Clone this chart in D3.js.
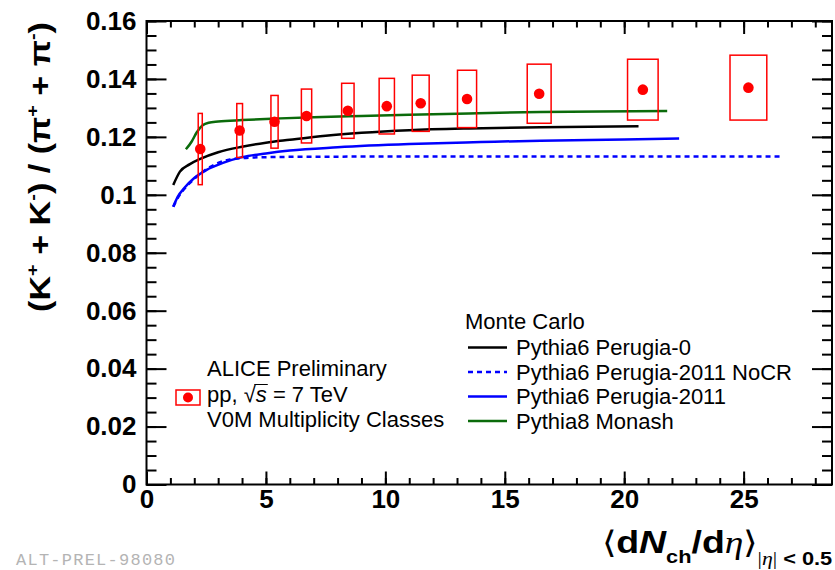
<!DOCTYPE html>
<html>
<head>
<meta charset="utf-8">
<script src="https://cdn.jsdelivr.net/npm/d3@7/dist/d3.min.js"></script>
<style>
  html, body { margin: 0; padding: 0; background: #fff; }
  svg { display: block; }
  text { font-family: "Liberation Sans", Arial, Helvetica, sans-serif; }
  text.figid { font-family: "Liberation Mono", "DejaVu Sans Mono", monospace; }
</style>
</head>
<body>
<svg id="chart" width="835" height="570"></svg>
<script>
// ALICE (K+ + K-)/(pi+ + pi-) vs charged-particle multiplicity, pp at 7 TeV
const multX   = [2.25, 3.9, 5.36, 6.7, 8.43, 10.06, 11.48, 13.42, 16.44, 20.78, 25.2];
const kPiRatio = [0.1158, 0.1222, 0.1252, 0.1272, 0.1290, 0.1306, 0.1316, 0.1331, 0.1349, 0.1363, 0.1370];
const sysX    = [0.085, 0.12, 0.15, 0.215, 0.26, 0.32, 0.355, 0.40, 0.50, 0.64, 0.77];
const sysY    = [0.0123, 0.0093, 0.0091, 0.0093, 0.0095, 0.0096, 0.0097, 0.0099, 0.0102, 0.0105, 0.0112];

// Monte Carlo predictions
const perugia0X = [1.12, 1.4, 1.8, 2.25, 3.0, 4.0, 5.0, 6.0, 7.5, 9.0, 11.0, 13.5, 16.5, 20.6];
const perugia0Y = [0.1034, 0.1080, 0.1105, 0.1124, 0.1147, 0.1166, 0.1180, 0.1190, 0.1204, 0.1214, 0.1223, 0.1229, 0.1233, 0.1237];

const perugia2011NoCRX = [1.12, 1.3, 1.6, 2.0, 2.5, 3.0, 3.5, 4.5, 6.0, 10.0, 15.0, 20.0, 26.6];
const perugia2011NoCRY = [0.0959, 0.0988, 0.1022, 0.1055, 0.1088, 0.1110, 0.1122, 0.1129, 0.1131, 0.1132, 0.1132, 0.1132, 0.1132];

const perugia2011X = [1.12, 1.3, 1.6, 2.0, 2.5, 3.2, 4.0, 5.0, 6.0, 8.0, 11.0, 14.0, 16.5, 20.0, 22.3];
const perugia2011Y = [0.0959, 0.0992, 0.1025, 0.1058, 0.1085, 0.1110, 0.1130, 0.1143, 0.1153, 0.1164, 0.1175, 0.1182, 0.1187, 0.1191, 0.1194];

const monashX = [1.65, 1.9, 2.1, 2.35, 2.6, 3.0, 4.0, 5.3, 7.0, 9.0, 11.0, 13.5, 16.5, 19.0, 21.8];
const monashY = [0.1157, 0.1185, 0.1215, 0.1240, 0.1249, 0.1253, 0.1258, 0.1263, 0.1268, 0.1272, 0.1276, 0.1281, 0.1286, 0.1288, 0.1289];

const xTicks = [0, 5, 10, 15, 20, 25];
const yTicks = [0, 0.02, 0.04, 0.06, 0.08, 0.1, 0.12, 0.14, 0.16];

const mcNames  = ["Pythia6 Perugia-0", "Pythia6 Perugia-2011 NoCR", "Pythia6 Perugia-2011", "Pythia8 Monash"];
const mcColors = ["#000000", "#0000ff", "#0000ff", "#0b6b0b"];
const mcDash   = [null, "5,4", null, null];
const mcX = [perugia0X, perugia2011NoCRX, perugia2011X, monashX];
const mcY = [perugia0Y, perugia2011NoCRY, perugia2011Y, monashY];

const svg = d3.select("#chart");
const plotL = 146.5, plotR = 832, plotT = 21, plotB = 484.5;

const x = d3.scaleLinear().domain([0, 28.7]).range([plotL, plotR]);
const y = d3.scaleLinear().domain([0, 0.16]).range([plotB, plotT]);

// ---- axes (ticks drawn inward on all four sides) ----
const minorX = d3.range(0, 28.7, 1);
const minorY = d3.range(0, 0.1601, 0.005);

function styleAxis(g) {
  g.select(".domain").remove();
  g.selectAll(".tick line").attr("stroke", "#000").attr("stroke-width", 2);
}

svg.append("g").attr("transform", `translate(0,${plotB})`)
  .call(d3.axisBottom(x).tickValues(minorX).tickSize(-6.5).tickFormat("")).call(styleAxis);
svg.append("g").attr("transform", `translate(0,${plotB})`)
  .call(d3.axisBottom(x).tickValues(xTicks).tickSize(-13).tickPadding(5).tickFormat(d3.format("d")))
  .call(styleAxis)
  .call(g => g.selectAll("text").attr("font-size", 26).attr("font-weight", "bold").attr("fill", "#000"));

svg.append("g").attr("transform", `translate(0,${plotT})`)
  .call(d3.axisTop(x).tickValues(minorX).tickSize(-6.5).tickFormat("")).call(styleAxis);
svg.append("g").attr("transform", `translate(0,${plotT})`)
  .call(d3.axisTop(x).tickValues(xTicks).tickSize(-13).tickFormat("")).call(styleAxis);

svg.append("g").attr("transform", `translate(${plotL},0)`)
  .call(d3.axisLeft(y).tickValues(minorY).tickSize(-10).tickFormat("")).call(styleAxis);
svg.append("g").attr("transform", `translate(${plotL},0)`)
  .call(d3.axisLeft(y).tickValues(yTicks).tickSize(-20).tickPadding(10).tickFormat(d3.format("~g")))
  .call(styleAxis)
  .call(g => g.selectAll("text").attr("font-size", 26).attr("font-weight", "bold").attr("fill", "#000"));

svg.append("g").attr("transform", `translate(${plotR},0)`)
  .call(d3.axisRight(y).tickValues(minorY).tickSize(-10).tickFormat("")).call(styleAxis);
svg.append("g").attr("transform", `translate(${plotR},0)`)
  .call(d3.axisRight(y).tickValues(yTicks).tickSize(-20).tickFormat("")).call(styleAxis);

svg.append("rect")
  .attr("x", plotL).attr("y", plotT)
  .attr("width", plotR - plotL).attr("height", plotB - plotT)
  .attr("fill", "none").attr("stroke", "#000").attr("stroke-width", 2);

// ---- Monte Carlo curves ----
const line = d3.line().x(d => x(d[0])).y(d => y(d[1])).curve(d3.curveMonotoneX);
mcX.forEach((xs, i) => {
  const pts = xs.map((v, j) => [v, mcY[i][j]]);
  svg.append("path")
    .attr("d", line(pts))
    .attr("fill", "none")
    .attr("stroke", mcColors[i])
    .attr("stroke-width", 2.5)
    .attr("stroke-dasharray", mcDash[i]);
});

// ---- data: systematic boxes and points ----
const data = multX.map((v, i) => ({ x: v, y: kPiRatio[i], ex: sysX[i], ey: sysY[i] }));
svg.append("g").selectAll("rect").data(data).join("rect")
  .attr("x", d => x(d.x - d.ex))
  .attr("width", d => x(d.x + d.ex) - x(d.x - d.ex))
  .attr("y", d => y(d.y + d.ey))
  .attr("height", d => y(d.y - d.ey) - y(d.y + d.ey))
  .attr("fill", "none").attr("stroke", "#ff0000").attr("stroke-width", 1.5);
svg.append("g").selectAll("circle").data(data).join("circle")
  .attr("cx", d => x(d.x)).attr("cy", d => y(d.y)).attr("r", 5.3)
  .attr("fill", "#ff0000");

// ---- ALICE label ----
const lab = svg.append("g").attr("font-size", 22).attr("fill", "#000");
lab.append("text").attr("x", 207).attr("y", 376).text("ALICE Preliminary");
const ppBase = 401.5;
const pp = lab.append("text").attr("x", 207).attr("y", ppBase);
pp.append("tspan").text("pp, √");
pp.append("tspan").attr("font-style", "italic").text("s");
pp.append("tspan").text(" = 7 TeV");
// bar of the square root over "s"
const rootEnd = pp.node().getEndPositionOfChar(4).x;
const sEnd = pp.node().getEndPositionOfChar(5).x;
lab.append("line")
  .attr("x1", rootEnd - 1.5).attr("x2", sEnd + 1)
  .attr("y1", ppBase - 17).attr("y2", ppBase - 17)
  .attr("stroke", "#000").attr("stroke-width", 1);
lab.append("text").attr("x", 207).attr("y", 427).text("V0M Multiplicity Classes");
lab.append("rect").attr("x", 176).attr("y", 390).attr("width", 24).attr("height", 15)
  .attr("fill", "none").attr("stroke", "#ff0000").attr("stroke-width", 1.5);
lab.append("circle").attr("cx", 188).attr("cy", 397.5).attr("r", 5).attr("fill", "#ff0000");

// ---- Monte Carlo legend ----
const leg = svg.append("g").attr("font-size", 22).attr("fill", "#000");
leg.append("text").attr("x", 465).attr("y", 329).text("Monte Carlo");
const legBase = [355, 379.5, 404, 428.5];
mcNames.forEach((name, i) => {
  leg.append("line")
    .attr("x1", 468).attr("x2", 507)
    .attr("y1", legBase[i] - 7.5).attr("y2", legBase[i] - 7.5)
    .attr("stroke", mcColors[i]).attr("stroke-width", 2.5)
    .attr("stroke-dasharray", mcDash[i]);
  leg.append("text").attr("x", 516).attr("y", legBase[i]).text(name);
});

// ---- y axis title ----
const yt = svg.append("text")
  .attr("font-size", 29).attr("font-weight", "bold").attr("fill", "#000")
  .attr("text-anchor", "middle");
function supPart(t, s) {
  t.append("tspan").attr("font-size", 17).attr("dy", -12).text(s);
}
yt.append("tspan").text("(K");
supPart(yt, "+");
yt.append("tspan").attr("dy", 12).text(" + K");
supPart(yt, "-");
yt.append("tspan").attr("dy", 12).text(") / (π");
supPart(yt, "+");
yt.append("tspan").attr("dy", 12).text(" + π");
supPart(yt, "-");
yt.append("tspan").attr("dy", 12).text(")");
const ytLen = yt.node().getComputedTextLength();
yt.attr("transform", `translate(50,167) rotate(-90) scale(${290 / ytLen},1)`);

// ---- x axis title ----
const serif = "'Liberation Serif', 'DejaVu Serif', serif";
const xt = svg.append("text")
  .attr("font-size", 31).attr("font-weight", "bold").attr("fill", "#000");
xt.append("tspan").attr("font-weight", "normal").text("⟨");
xt.append("tspan").text("d");
xt.append("tspan").attr("font-style", "italic").text("N");
xt.append("tspan").attr("font-size", 18).attr("dy", 10).text("ch");
xt.append("tspan").attr("dy", -10).text("/d");
xt.append("tspan").attr("font-style", "italic").attr("font-weight", "normal")
  .attr("font-family", serif).text("η");
xt.append("tspan").attr("font-weight", "normal").text("⟩");
xt.append("tspan").attr("font-size", 18).attr("dy", 12).attr("font-weight", "normal")
  .attr("font-family", serif).text("|");
xt.append("tspan").attr("font-size", 18).attr("font-style", "italic").attr("font-weight", "normal")
  .attr("font-family", serif).text("η");
xt.append("tspan").attr("font-size", 18).attr("font-weight", "normal")
  .attr("font-family", serif).text("|");
xt.append("tspan").attr("font-size", 18).text(" < 0.5");
const xtLen = xt.node().getComputedTextLength();
const xtScale = 231 / xtLen;
xt.attr("transform", `translate(${833 - xtLen * xtScale},553) scale(${xtScale},1)`);

// ---- figure identifier ----
svg.append("text")
  .attr("class", "figid")
  .attr("x", 16).attr("y", 565)
  .attr("font-size", 17).attr("fill", "#b4b4b4")
  .attr("textLength", 159).attr("lengthAdjust", "spacing")
  .text("ALT-PREL-98080");
</script>
</body>
</html>
